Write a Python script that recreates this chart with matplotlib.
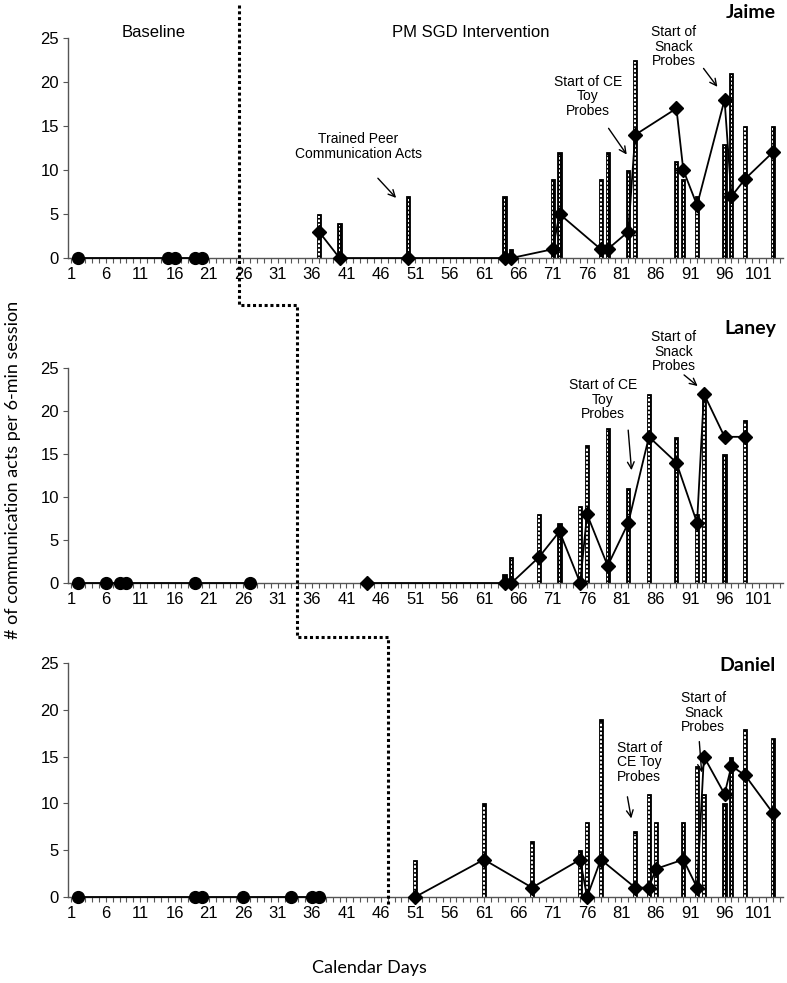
import matplotlib
matplotlib.use("Agg")
import matplotlib.pyplot as plt
from matplotlib.lines import Line2D

plt.rcParams['font.family'] = ['Liberation Sans', 'DejaVu Sans']
plt.rcParams['hatch.linewidth'] = 1.2

# ---- data (calendar day, value) ----
jaime_base_days = [2, 15, 16, 19, 20]
jaime_base_vals = [0, 0, 0, 0, 0]
jaime_int_days = [37, 40, 50, 64, 65, 71, 72, 78, 79, 82, 83, 89, 90, 92, 96, 97, 99, 103]
jaime_int_vals = [3, 0, 0, 0, 0, 1, 5, 1, 1, 3, 14, 17, 10, 6, 18, 7, 9, 12]
jaime_peer_vals = [5, 4, 7, 7, 1, 9, 12, 9, 12, 10, 22.5, 11, 9, 7, 13, 21, 15, 15]

laney_base_days = [2, 6, 8, 9, 19, 27]
laney_base_vals = [0, 0, 0, 0, 0, 0]
laney_int_days = [44, 64, 65, 69, 72, 75, 76, 79, 82, 85, 89, 92, 93, 96, 99]
laney_int_vals = [0, 0, 0, 3, 6, 0, 8, 2, 7, 17, 14, 7, 22, 17, 17]
laney_peer_vals = [0, 1, 3, 8, 7, 9, 16, 18, 11, 22, 17, 8, 22, 15, 19]

daniel_base_days = [2, 19, 20, 26, 33, 36, 37]
daniel_base_vals = [0, 0, 0, 0, 0, 0, 0]
daniel_int_days = [51, 61, 68, 75, 76, 78, 83, 85, 86, 90, 92, 93, 96, 97, 99, 103]
daniel_int_vals = [0, 4, 1, 4, 0, 4, 1, 1, 3, 4, 1, 15, 11, 14, 13, 9]
daniel_peer_vals = [4, 10, 6, 5, 8, 19, 7, 11, 8, 8, 14, 11, 10, 15, 18, 17]

names = ["Jaime", "Laney", "Daniel"]
name_y = [27.95, 29.65, 24.7]
phase_change = [25.4, 33.8, 47.0]

fig = plt.figure(figsize=(7.87, 9.83), dpi=100)
positions = [[0.0864, 0.7375, 0.9085, 0.2238],
             [0.0864, 0.4069, 0.9085, 0.2187],
             [0.0864, 0.0875, 0.9085, 0.2380]]
axes = [fig.add_axes(p) for p in positions]

panels = [
    (jaime_base_days, jaime_base_vals, jaime_int_days, jaime_int_vals, jaime_peer_vals),
    (laney_base_days, laney_base_vals, laney_int_days, laney_int_vals, laney_peer_vals),
    (daniel_base_days, daniel_base_vals, daniel_int_days, daniel_int_vals, daniel_peer_vals),
]

for ax, (bd, bv, idays, ivals, peer), name, ny in zip(axes, panels, names, name_y):
    # peer bars: black column with a strip of white dashes inside
    ax.bar(idays, peer, width=0.6, color="black", edgecolor="black", linewidth=0.6, zorder=2)
    ax.bar(idays, [max(p - 0.25, 0) for p in peer], width=0.22, color="white",
           edgecolor="black", hatch="----", linewidth=0, zorder=2.5)
    ax.plot(bd, bv, color="black", lw=1.3, marker="o", ms=8.5, zorder=4, clip_on=False)
    ax.plot(idays, ivals, color="black", lw=1.3, marker="D", ms=7.5, zorder=4, clip_on=False)
    ax.set_xlim(0.5, 104.5)
    ax.set_ylim(0, 25)
    ax.set_yticks(range(0, 26, 5))
    ax.set_xticks(range(1, 105))
    ax.set_xticklabels([str(d) if (d - 1) % 5 == 0 else "" for d in range(1, 105)])
    ax.tick_params(axis="both", labelsize=12, length=3.5, width=0.8, color="#555555", pad=3)
    ax.spines[["top", "right"]].set_visible(False)
    for s in ["left", "bottom"]:
        ax.spines[s].set_color("#555555")
        ax.spines[s].set_linewidth(1.0)
    ax.text(103.5, ny, name, ha="right", va="center",
            fontsize=14, fontweight="bold", family=["Lato", "DejaVu Sans"])

ann = dict(fontsize=10, ha="center", va="center", linespacing=1.05)
arrow = dict(arrowstyle="->", color="black", lw=1.0, mutation_scale=12)

a = axes[0]
a.text(12.9, 25.6, "Baseline", fontsize=12, ha="center", va="center")
a.text(59.1, 25.6, "PM SGD Intervention", fontsize=12, ha="center", va="center")
a.text(42.7, 12.7, "Trained Peer\nCommunication Acts", **ann)
a.annotate("", xy=(48.5, 6.6), xytext=(45.3, 9.3), arrowprops=arrow)
a.text(76.1, 18.4, "Start of CE\nToy\nProbes", **ann)
a.annotate("", xy=(82.0, 11.5), xytext=(78.9, 15.0), arrowprops=arrow)
a.text(88.6, 24.0, "Start of\nSnack\nProbes", **ann)
a.annotate("", xy=(95.2, 19.2), xytext=(92.7, 21.8), arrowprops=arrow, annotation_clip=False)

a = axes[1]
a.text(78.3, 21.3, "Start of CE\nToy\nProbes", **ann)
a.annotate("", xy=(82.5, 12.8), xytext=(81.95, 18.1), arrowprops=arrow)
a.text(88.6, 26.9, "Start of\nSnack\nProbes", **ann)
a.annotate("", xy=(92.4, 22.7), xytext=(89.8, 24.4), arrowprops=arrow)

a = axes[2]
a.text(83.6, 14.4, "Start of\nCE Toy\nProbes", **ann)
a.annotate("", xy=(82.5, 8.1), xytext=(81.8, 11.0), arrowprops=arrow)
a.text(92.9, 19.7, "Start of\nSnack\nProbes", **ann)
a.annotate("", xy=(92.7, 13.0), xytext=(92.3, 16.9), arrowprops=arrow)

# phase change line (staircase) in figure coordinates
inv = fig.transFigure.inverted()
xs = [inv.transform(ax.transData.transform((x, 0)))[0] for ax, x in zip(axes, phase_change)]
y_top, y_step1, y_step2, y_bot = 0.995, 0.6897, 0.352, 0.0793
px = [xs[0], xs[0], xs[1], xs[1], xs[2], xs[2]]
py = [y_top, y_step1, y_step1, y_step2, y_step2, y_bot]
fig.add_artist(Line2D(px, py, transform=fig.transFigure, color="black", lw=2.2,
                      linestyle=(0, (1, 0.9)), dash_capstyle="butt", zorder=10))

fig.text(0.016, 0.522, "# of communication acts per 6-min session", rotation=90,
         ha="center", va="center", fontsize=13, family=["Lato", "DejaVu Sans"])
fig.text(0.47, 0.015, "Calendar Days", ha="center", va="center", fontsize=13,
         family=["Lato", "DejaVu Sans"])

fig.savefig("out.png", dpi=100)
